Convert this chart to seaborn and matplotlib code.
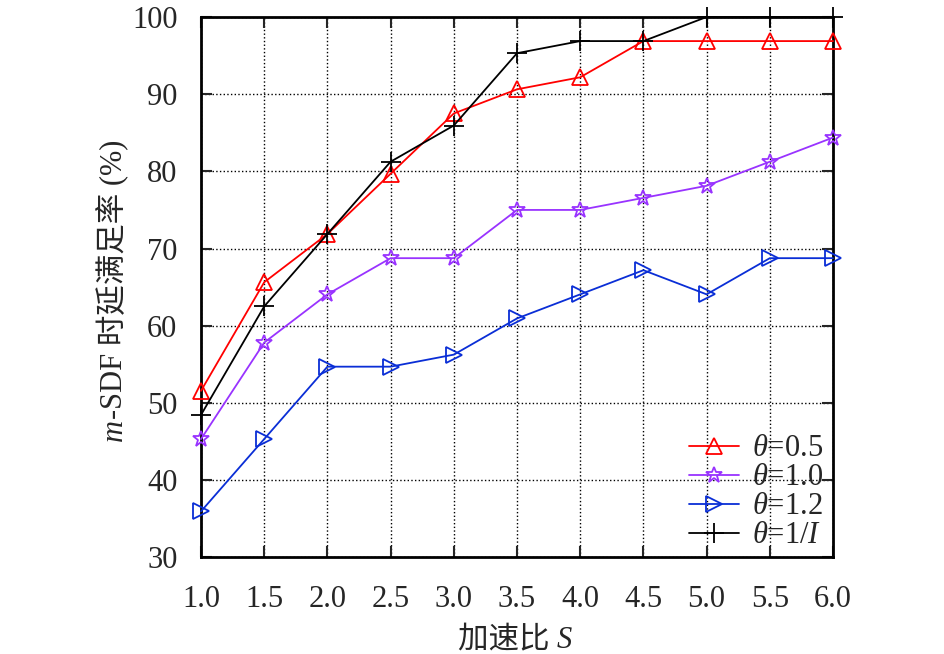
import numpy as np
import pandas as pd
import seaborn as sns
import matplotlib.pyplot as plt

speedup = [1.0, 1.5, 2.0, 2.5, 3.0, 3.5, 4.0, 4.5, 5.0, 5.5, 6.0]
theta_05 = [51.56, 65.63, 71.88, 79.69, 87.5, 90.63, 92.19, 96.88, 96.88, 96.88, 96.88]
theta_10 = [45.31, 57.81, 64.06, 68.75, 68.75, 75.0, 75.0, 76.56, 78.13, 81.25, 84.38]
theta_12 = [35.94, 45.31, 54.69, 54.69, 56.25, 60.94, 64.06, 67.19, 64.06, 68.75, 68.75]
theta_1i = [48.44, 62.5, 71.88, 81.25, 85.94, 95.31, 96.88, 96.88, 100.0, 100.0, 100.0]

series = [
    (r'$\theta$=0.5', theta_05, '#ff0000', '^', 12),
    (r'$\theta$=1.0', theta_10, '#9933ff', '*', 12),
    (r'$\theta$=1.2', theta_12, '#0a2ed6', '>', 12),
    (r'$\theta$=1/$I$', theta_1i, '#000000', '+', 14),
]

sns.set_style('ticks')
plt.rcParams['font.family'] = ['Liberation Serif', 'Noto Sans CJK SC']
plt.rcParams['mathtext.fontset'] = 'custom'
plt.rcParams['mathtext.rm'] = 'Liberation Serif'
plt.rcParams['mathtext.it'] = 'Liberation Serif:italic'
FS = 22
plt.rcParams['font.size'] = FS

fig = plt.figure(figsize=(9.45, 6.54), dpi=100)
ax = fig.add_axes([0.2127, 0.148, 0.6688, 0.826])

for label, vals, color, marker, ms in series:
    sns.lineplot(x=speedup, y=vals, ax=ax, color=color, marker=marker,
                 markersize=ms, mfc='none', mec=color, mew=1.3,
                 linewidth=1.3, label=label, clip_on=False, zorder=3)

ax.set_xlim(1.0, 6.0)
ax.set_ylim(30, 100)
ax.set_xticks(np.arange(1.0, 6.01, 0.5))
ax.set_xticklabels([f'{v:.1f}' for v in np.arange(1.0, 6.01, 0.5)])
ax.set_yticks(range(30, 101, 10))
ax.grid(True, linestyle=':', color='black', linewidth=1.0)
ax.tick_params(direction='in', length=8, width=1.5, top=True, right=True,
               labelsize=FS)
ax.tick_params(axis='x', pad=20)
ax.tick_params(axis='y', pad=17)
for sp in ax.spines.values():
    sp.set_linewidth(2)
    sp.set_color('black')

ax.legend(loc='lower right', bbox_to_anchor=(1.003, -0.01), frameon=False,
          fontsize=FS, handlelength=1.65, handletextpad=0.4,
          labelspacing=0.0, borderaxespad=0.0)

# axis labels: Chinese parts and italic symbols drawn as separate pieces
cjk = ['Liberation Serif', 'Noto Sans CJK SC']
ita = dict(family='Liberation Serif', style='italic', fontsize=FS)
r = fig.canvas.get_renderer()
inv = fig.transFigure.inverted()

# x label: "加速比 S"
xa = fig.text(0, 0, '加速比 ', family=cjk, fontsize=FS, va='baseline')
xb = fig.text(0, 0, 'S', va='baseline', **ita)
wa = xa.get_window_extent(r).width
wb = xb.get_window_extent(r).width
cx = 515 / 945 * fig.bbox.width
base = (654 - 648) / 654 * fig.bbox.height
x0 = cx - (wa + wb) / 2
xa.set_position(inv.transform((x0, base)))
xb.set_position(inv.transform((x0 + wa, base)))

# y label: "m-SDF 时延满足率 (%)"
ya = fig.text(0, 0, 'm', rotation=90, rotation_mode='anchor', ha='left',
              va='baseline', **ita)
yb = fig.text(0, 0, '-SDF 时延满足率 (%)', family=cjk, fontsize=FS,
              rotation=90, rotation_mode='anchor', ha='left', va='baseline')
ha_ = ya.get_window_extent(r).height
hb_ = yb.get_window_extent(r).height
cy = (654 - 290) / 654 * fig.bbox.height
bx = 122 / 945 * fig.bbox.width
y0 = cy - (ha_ + hb_) / 2
ya.set_position(inv.transform((bx, y0)))
yb.set_position(inv.transform((bx, y0 + ha_)))

fig.savefig('out.png', dpi=100)
